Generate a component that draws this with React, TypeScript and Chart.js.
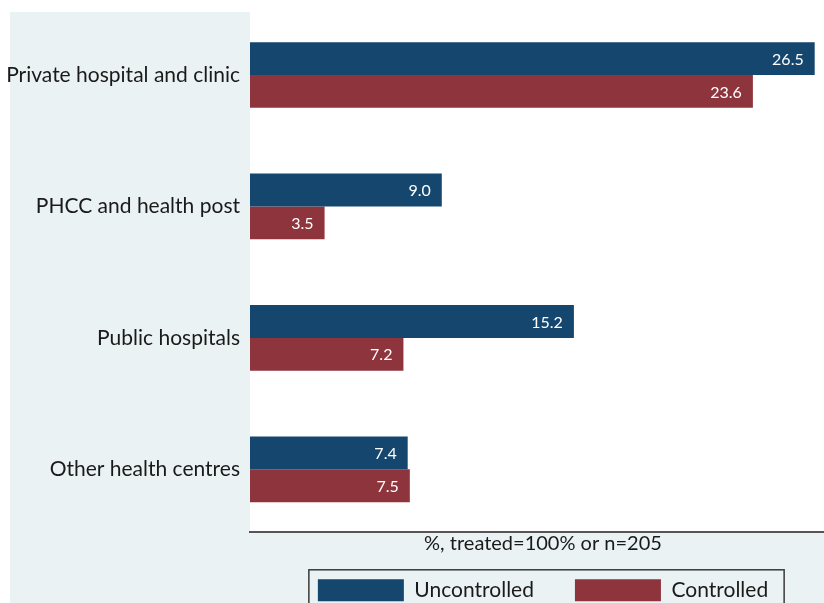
import React, { useEffect, useRef } from "react";
import { Chart, registerables } from "chart.js";

Chart.register(...registerables);

const categories = [
  "Private hospital and clinic",
  "PHCC and health post",
  "Public hospitals",
  "Other health centres",
];
const uncontrolled = [26.5, 9.0, 15.2, 7.4];
const controlled = [23.6, 3.5, 7.2, 7.5];
const seriesNames = ["Uncontrolled", "Controlled"];
const axisTitle = "%, treated=100% or n=205";

const FONT = "Lato";
const BLUE = "#15466e";
const RED = "#8e343d";
const PANEL = "#eaf2f3";
const TEXT = "#1a1a1a";

const backgroundPlugin = {
  id: "bgPanel",
  beforeDraw(chart: any) {
    const { ctx, width, height, chartArea } = chart;
    ctx.save();
    ctx.fillStyle = "#ffffff";
    ctx.fillRect(0, 0, width, height);
    ctx.fillStyle = PANEL;
    ctx.fillRect(10, 12, width - 10, height - 12);
    ctx.fillStyle = "#ffffff";
    ctx.fillRect(chartArea.left, 0, width - chartArea.left, chartArea.bottom);
    ctx.restore();
  },
};

const valueLabelPlugin = {
  id: "valueLabels",
  afterDatasetsDraw(chart: any) {
    const { ctx } = chart;
    ctx.save();
    ctx.font = `16px ${FONT}`;
    ctx.fillStyle = "#ffffff";
    ctx.textAlign = "right";
    ctx.textBaseline = "middle";
    chart.data.datasets.forEach((ds: any, i: number) => {
      const meta = chart.getDatasetMeta(i);
      meta.data.forEach((bar: any, j: number) => {
        const v = ds.data[j].x as number;
        ctx.fillText(v.toFixed(1), bar.x - 11, bar.y + 1);
      });
    });
    ctx.restore();
  },
};

const legendBorderPlugin = {
  id: "legendBorder",
  afterDraw(chart: any) {
    const hb = chart.legend && chart.legend.legendHitBoxes;
    if (!hb || !hb.length) return;
    const first = hb[0];
    const last = hb[hb.length - 1];
    const left = first.left - 9;
    const top = first.top - 9.5;
    const right = last.left + last.width + 16;
    const bottom = first.top + first.height + 10;
    const { ctx } = chart;
    ctx.save();
    ctx.strokeStyle = "#3a3a3a";
    ctx.lineWidth = 1.5;
    ctx.strokeRect(left, top, right - left, bottom - top);
    ctx.restore();
  },
};

export default function App() {
  const ref = useRef<HTMLCanvasElement | null>(null);

  useEffect(() => {
    if (!ref.current) return;
    const pxPerCat = 131.45;
    const yMin = -75 / pxPerCat;
    const yMax = yMin + 532 / pxPerCat;

    const chart = new Chart(ref.current, {
      type: "bar",
      data: {
        datasets: [
          {
            label: seriesNames[0],
            data: uncontrolled.map((v, i) => ({ x: v, y: i })),
            backgroundColor: BLUE,
            borderWidth: 0,
          },
          {
            label: seriesNames[1],
            data: controlled.map((v, i) => ({ x: v, y: i })),
            backgroundColor: RED,
            borderWidth: 0,
          },
        ],
      },
      options: {
        indexAxis: "y",
        responsive: false,
        animation: false,
        devicePixelRatio: 1,
        events: [],
        layout: { padding: { top: 0, left: 0, right: 10, bottom: 28.7 } },
        datasets: {
          bar: { categoryPercentage: 0.5, barPercentage: 1.0 },
        },
        scales: {
          x: {
            type: "linear",
            position: "bottom",
            min: 0,
            max: 27.5,
            grid: { display: false, drawTicks: false },
            border: { display: true, color: "#555555", width: 2 },
            ticks: { display: false },
            title: {
              display: true,
              text: axisTitle,
              color: TEXT,
              font: { family: FONT, size: 20, lineHeight: 1.2 },
              padding: { top: 0, bottom: -17.7 },
            },
          },
          y: {
            type: "linear",
            position: "left",
            reverse: true,
            offset: false,
            bounds: "data",
            min: yMin,
            max: yMax,
            grid: { display: false, drawTicks: false, offset: false },
            border: { display: false },
            afterBuildTicks: (scale: any) => {
              scale.ticks = categories.map((_, i) => ({ value: i }));
            },
            afterFit: (scale: any) => {
              scale.width = 250;
              scale.paddingTop = 0;
              scale.paddingBottom = 0;
            },
            ticks: {
              padding: 10,
              color: TEXT,
              includeBounds: false,
              font: { family: FONT, size: 21 },
              callback: (v: any) => categories[Number(v)] ?? "",
            },
          },
        },
        plugins: {
          tooltip: { enabled: false },
          title: { display: false },
          legend: {
            display: true,
            position: "bottom",
            fullSize: false,
            labels: {
              boxWidth: 86,
              boxHeight: 22,
              padding: 41,
              color: TEXT,
              font: { family: FONT, size: 21 },
            },
          },
        },
      },
      plugins: [backgroundPlugin, valueLabelPlugin, legendBorderPlugin],
    } as any);

    return () => chart.destroy();
  }, []);

  return (
    <div
      style={{
        position: "fixed",
        left: 0,
        top: 0,
        width: 824,
        height: 603,
        overflow: "hidden",
        background: "#ffffff",
      }}
    >
      <canvas ref={ref} width={846} height={640} style={{ display: "block" }} />
    </div>
  );
}
